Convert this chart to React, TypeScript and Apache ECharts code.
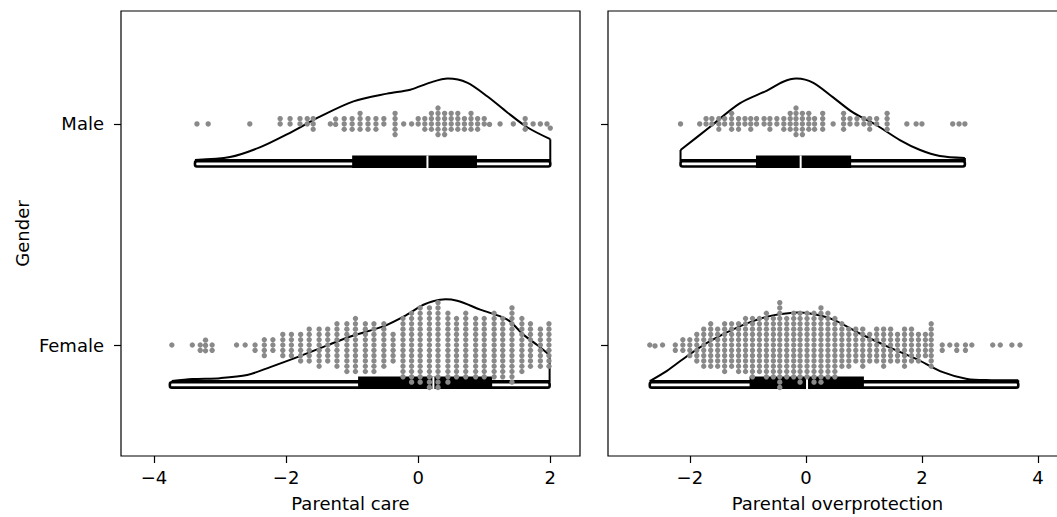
import React, { useEffect, useRef } from "react";
import * as echarts from "echarts";

// ---------- data ----------
const categories = ["Male", "Female"];
const careTicks = [-4, -2, 0, 2];
const overTicks = [-2, 0, 2, 4];

// half-violin profiles: x values and heights (in units of category spacing)
const maleCareKdeX = [-3.38, -2.85, -2.39, -1.98, -1.48, -0.98, -0.47, -0.12, 0.18, 0.45, 0.74, 1.05, 1.35, 1.65, 2.0];
const maleCareKdeH = [0, 0.013, 0.058, 0.117, 0.197, 0.265, 0.3, 0.318, 0.35, 0.368, 0.35, 0.287, 0.215, 0.148, 0.094];
const femaleCareKdeX = [-3.73, -3.42, -3.0, -2.59, -2.24, -1.83, -1.38, -0.98, -0.53, -0.17, 0.08, 0.33, 0.59, 0.94, 1.35, 1.59, 1.85, 1.99];
const femaleCareKdeH = [0, 0.009, 0.013, 0.027, 0.063, 0.108, 0.161, 0.206, 0.247, 0.3, 0.345, 0.368, 0.363, 0.323, 0.278, 0.211, 0.152, 0.117];
const maleOverKdeX = [-2.16, -1.66, -1.14, -0.67, -0.39, -0.16, 0.12, 0.47, 0.81, 1.22, 1.62, 1.97, 2.31, 2.74];
const maleOverKdeH = [0.045, 0.148, 0.256, 0.314, 0.354, 0.368, 0.35, 0.283, 0.215, 0.157, 0.09, 0.045, 0.018, 0.009];
const femaleOverKdeX = [-2.69, -2.4, -2.05, -1.66, -1.14, -0.67, -0.22, 0.07, 0.47, 0.93, 1.4, 1.91, 2.36, 2.78, 3.2, 3.66];
const femaleOverKdeH = [0, 0.045, 0.112, 0.179, 0.247, 0.291, 0.309, 0.305, 0.278, 0.215, 0.157, 0.099, 0.04, 0.009, 0.004, 0.003];

// box statistics: [whisker low, Q1, median, Q3, whisker high]
const maleCareBox = [-3.38, -1.0, 0.14, 0.89, 2.0];
const femaleCareBox = [-3.76, -0.91, 0.23, 1.12, 1.99];
const maleOverBox = [-2.16, -0.86, -0.09, 0.78, 2.74];
const femaleOverBox = [-2.69, -0.97, 0.02, 1.0, 3.66];

// swarm dots: distinct values and number of dots at each value
const maleCareVals = [-3.35, -3.18, -2.55, -2.09, -1.94, -1.79, -1.68, -1.59, -1.33, -1.25, -1.12, -1.0, -0.88, -0.76, -0.64, -0.52, -0.35, -0.22, -0.1, 0.0, 0.1, 0.2, 0.3, 0.4, 0.5, 0.6, 0.7, 0.8, 0.9, 1.0, 1.08, 1.24, 1.44, 1.62, 1.74, 1.85, 1.95, 2.0];
const maleCareCounts = [1, 1, 1, 2, 2, 2, 2, 3, 1, 2, 3, 3, 4, 3, 3, 2, 5, 1, 1, 2, 3, 4, 6, 5, 4, 4, 3, 4, 3, 2, 1, 1, 1, 3, 1, 1, 1, 1];
const femaleCareVals = [-3.73, -3.42, -3.3, -3.22, -3.12, -2.75, -2.62, -2.47, -2.33, -2.2, -2.05, -1.92, -1.78, -1.65, -1.5, -1.37, -1.23, -1.08, -0.95, -0.8, -0.67, -0.52, -0.38, -0.23, -0.1, 0.03, 0.17, 0.3, 0.45, 0.58, 0.72, 0.87, 1.0, 1.15, 1.28, 1.42, 1.57, 1.7, 1.85, 1.98];
const femaleCareCounts = [1, 1, 2, 3, 2, 1, 1, 2, 4, 3, 5, 5, 6, 7, 8, 7, 9, 10, 11, 10, 10, 9, 6, 12, 14, 15, 16, 17, 14, 12, 13, 12, 12, 13, 12, 15, 11, 9, 8, 9];
const maleOverVals = [-2.16, -1.83, -1.72, -1.62, -1.5, -1.4, -1.28, -1.16, -1.05, -0.95, -0.85, -0.72, -0.62, -0.5, -0.38, -0.27, -0.17, -0.06, 0.05, 0.15, 0.29, 0.47, 0.65, 0.76, 0.88, 1.0, 1.1, 1.22, 1.4, 1.74, 1.9, 2.0, 2.53, 2.64, 2.74];
const maleOverCounts = [1, 1, 2, 2, 3, 2, 4, 3, 2, 3, 2, 2, 3, 2, 3, 4, 6, 5, 4, 3, 4, 1, 4, 2, 2, 2, 3, 2, 4, 1, 1, 1, 1, 1, 1];
const femaleOverVals = [-2.69, -2.6, -2.47, -2.25, -2.12, -2.0, -1.88, -1.76, -1.64, -1.52, -1.4, -1.28, -1.16, -1.04, -0.92, -0.8, -0.68, -0.56, -0.45, -0.33, -0.21, -0.1, 0.02, 0.14, 0.26, 0.38, 0.5, 0.62, 0.74, 0.86, 0.98, 1.1, 1.22, 1.34, 1.46, 1.58, 1.7, 1.82, 1.94, 2.06, 2.16, 2.35, 2.48, 2.6, 2.75, 2.86, 3.22, 3.35, 3.55, 3.69];
const femaleOverCounts = [1, 1, 1, 2, 3, 4, 6, 8, 9, 8, 10, 9, 10, 11, 12, 11, 13, 12, 17, 12, 13, 14, 13, 14, 15, 13, 12, 9, 8, 7, 8, 6, 7, 8, 7, 6, 8, 7, 6, 5, 9, 2, 1, 2, 2, 1, 1, 1, 1, 1];

// ---------- build ----------
type Group = { cat: number; kx: number[]; kh: number[]; box: number[]; vals: number[]; counts: number[] };

const careGroups: Group[] = [
  { cat: 0, kx: maleCareKdeX, kh: maleCareKdeH, box: maleCareBox, vals: maleCareVals, counts: maleCareCounts },
  { cat: 1, kx: femaleCareKdeX, kh: femaleCareKdeH, box: femaleCareBox, vals: femaleCareVals, counts: femaleCareCounts },
];
const overGroups: Group[] = [
  { cat: 0, kx: maleOverKdeX, kh: maleOverKdeH, box: maleOverBox, vals: maleOverVals, counts: maleOverCounts },
  { cat: 1, kx: femaleOverKdeX, kh: femaleOverKdeH, box: femaleOverBox, vals: femaleOverVals, counts: femaleOverCounts },
];

const DOT_R = 2.7;
const DOT_D = 5.3;
const BASE_OFF = 36;

function swarm(xs: number[], cy: number) {
  const sorted = [...xs].sort((a, b) => a - b);
  const placed: number[][] = [];
  for (const x of sorted) {
    const near = placed.filter((p) => Math.abs(p[0] - x) < DOT_D);
    const cands: number[] = [cy];
    for (const p of near) {
      const dx = x - p[0];
      const dy = Math.sqrt(Math.max(0, DOT_D * DOT_D - dx * dx));
      cands.push(p[1] + dy, p[1] - dy);
    }
    cands.sort((a, b) => Math.abs(a - cy) - Math.abs(b - cy));
    let chosen = cands[0];
    for (const c of cands) {
      let ok = true;
      for (const p of near) {
        const dx = x - p[0];
        const dy = c - p[1];
        if (dx * dx + dy * dy < DOT_D * DOT_D - 0.01) { ok = false; break; }
      }
      if (ok) { chosen = c; break; }
    }
    placed.push([x, chosen]);
  }
  return placed;
}

function makeRender(groups: Group[]) {
  return (params: any, api: any) => {
    const g = groups[params.dataIndex];
    const cy = api.coord([0, g.cat])[1];
    const unit = Math.abs(api.size([0, 1])[1]);
    const base = cy + BASE_OFF;
    const px = (v: number) => api.coord([v, g.cat])[0];
    const children: any[] = [];
    const pts = g.kx.map((x, i) => [px(x), base - g.kh[i] * unit]);
    const n = pts.length;
    children.push({ type: "polyline", shape: { points: pts, smooth: 0.3 }, style: { stroke: "#000", lineWidth: 2, fill: "none" } });
    children.push({
      type: "polyline",
      shape: { points: [pts[0], [pts[0][0], base], [pts[n - 1][0], base], pts[n - 1]] },
      style: { stroke: "#000", lineWidth: 2, fill: "none" },
    });
    const [wl, q1, md, q3, wh] = g.box.map(px);
    children.push({ type: "rect", shape: { x: wl, y: cy + 37.2, width: wh - wl, height: 5.4, r: 2 }, style: { fill: "#fff", stroke: "#000", lineWidth: 2.6 } });
    children.push({ type: "rect", shape: { x: q1, y: cy + 31.5, width: q3 - q1, height: 12.5 }, style: { fill: "#000" } });
    children.push({ type: "line", shape: { x1: md, y1: cy + 31.5, x2: md, y2: cy + 44 }, style: { stroke: "#fff", lineWidth: 2 } });
    const xs: number[] = [];
    g.vals.forEach((v, i) => { for (let k = 0; k < g.counts[i]; k++) xs.push(px(v)); });
    for (const p of swarm(xs, cy)) {
      children.push({ type: "circle", shape: { cx: p[0], cy: p[1], r: DOT_R }, style: { fill: "#898989" } });
    }
    return { type: "group", children };
  };
}

const FONT = "DejaVu Sans";
const FS = 18;
const fmt = (v: number) => (v < 0 ? "\u2212" + Math.abs(v) : String(v));

export default function App() {
  const ref = useRef<HTMLDivElement>(null);
  useEffect(() => {
    if (!ref.current) return;
    const chart = echarts.init(ref.current, null, { renderer: "svg" });
    const xAxisCommon = (ticks: number[], min: number, max: number, name: string, gi: number) => ({
      type: "value",
      gridIndex: gi,
      min,
      max,
      name,
      nameLocation: "middle",
      nameGap: 38,
      nameTextStyle: { fontFamily: FONT, fontSize: FS, color: "#000" },
      axisLine: { show: false, onZero: false },
      splitLine: { show: false },
      axisTick: { show: true, length: 7, customValues: ticks, lineStyle: { color: "#000", width: 1.2 } },
      axisLabel: { customValues: ticks, formatter: fmt, fontFamily: FONT, fontSize: FS, color: "#000", margin: 12 },
    });
    const yAxisCommon = (gi: number, showLabel: boolean) => ({
      type: "value",
      gridIndex: gi,
      inverse: true,
      min: -0.511,
      max: 1.502,
      name: showLabel ? "Gender" : "",
      nameLocation: "middle",
      nameGap: 90,
      nameTextStyle: { fontFamily: FONT, fontSize: FS, color: "#000" },
      axisLine: { show: false, onZero: false },
      splitLine: { show: false },
      axisTick: { show: true, length: 7, customValues: [0, 1], lineStyle: { color: "#000", width: 1.2 } },
      axisLabel: {
        show: showLabel,
        customValues: [0, 1],
        formatter: (v: number) => categories[Math.round(v)] ?? "",
        fontFamily: FONT,
        fontSize: FS,
        color: "#000",
        margin: 17,
      },
    });
    chart.setOption({
      animation: false,
      backgroundColor: "#fff",
      grid: [
        { left: 121, top: 11, width: 459, height: 449, show: true, borderColor: "#000", borderWidth: 1.2, backgroundColor: "transparent" },
        { left: 608, top: 11, width: 459, height: 449, show: true, borderColor: "#000", borderWidth: 1.2, backgroundColor: "transparent" },
      ],
      xAxis: [
        xAxisCommon(careTicks, -4.5, 2.45, "Parental care", 0),
        xAxisCommon(overTicks, -3.41, 4.5, "Parental overprotection", 1),
      ],
      yAxis: [yAxisCommon(0, true), yAxisCommon(1, false)],
      series: [
        {
          type: "custom",
          xAxisIndex: 0,
          yAxisIndex: 0,
          renderItem: makeRender(careGroups),
          data: careGroups.map((g) => [g.box[2], g.cat]),
          clip: false,
        },
        {
          type: "custom",
          xAxisIndex: 1,
          yAxisIndex: 1,
          renderItem: makeRender(overGroups),
          data: overGroups.map((g) => [g.box[2], g.cat]),
          clip: false,
        },
      ],
    });
    return () => chart.dispose();
  }, []);
  return <div ref={ref} style={{ position: "fixed", left: 0, top: 0, width: 1067, height: 517 }} />;
}
